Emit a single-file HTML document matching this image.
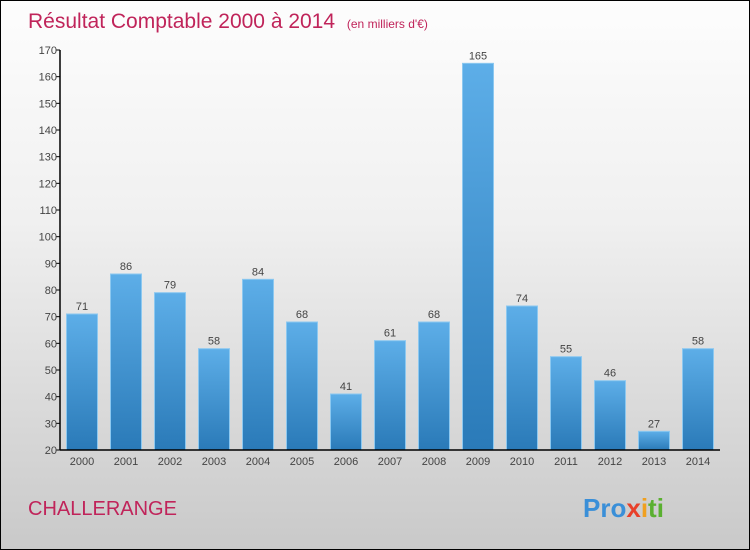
<!DOCTYPE html>
<html><head><meta charset="utf-8"><style>
body{margin:0}
#wrap{position:relative;width:748px;height:548px;border:1px solid #000;background:linear-gradient(#fdfdfd,#f0f0f0 40%,#c9c9c9);font-family:"Liberation Sans",sans-serif;overflow:hidden}
</style></head><body>
<div id="wrap">
<svg id="svg" width="748" height="548">
<defs><linearGradient id="bg" x1="0" x2="0" y1="0" y2="1"><stop offset="0" stop-color="#5daee8"/><stop offset="1" stop-color="#2a7ab8"/></linearGradient></defs>
<text x="27" y="27" font-size="21" fill="#c0245a">Résultat Comptable 2000 à 2014 <tspan font-size="12" dx="6">(en milliers d'€)</tspan></text>
<text x="27" y="514" font-size="20" fill="#c0245a">CHALLERANGE</text>
<text x="582" y="516" font-size="26" font-weight="bold"><tspan fill="#3a8fd8">Pro</tspan><tspan fill="#e8402a">x</tspan><tspan fill="#f0a020">i</tspan><tspan fill="#5ab030">ti</tspan></text>
<g id="plot"></g>
</svg>
</div>
<script>
const categories=["2000","2001","2002","2003","2004","2005","2006","2007","2008","2009","2010","2011","2012","2013","2014"];
const values=[71,86,79,58,84,68,41,61,68,165,74,55,46,27,58];
const yTicks=[20,30,40,50,60,70,80,90,100,110,120,130,140,150,160,170];
const NS="http://www.w3.org/2000/svg";
const g=document.getElementById("plot");
const x0=59,band=44,yMin=20,yMax=170,yTop=49,yBot=449;
const y=v=>yBot-(v-yMin)/(yMax-yMin)*(yBot-yTop);
const xc=i=>x0+band*(i+0.5);
function mk(t,a,txt){const e=document.createElementNS(NS,t);for(const k in a)e.setAttribute(k,a[k]);if(txt!=null)e.textContent=txt;g.appendChild(e);return e;}
yTicks.forEach(t=>{
 const l=mk("line",{x1:x0-4,x2:x0,y1:y(t),y2:y(t),stroke:"#000"});
 
 
 const tx=mk("text",{x:x0-3,y:y(t)+4,"font-size":11,fill:"#444","text-anchor":"end"},t);
 
 
});
values.forEach((v,i)=>{
 const r=mk("rect",{x:xc(i)-15.5,y:y(v),width:31,height:yBot-y(v),fill:"url(#bg)",stroke:"#8cc8f0","stroke-width":1});
 
 
 const vl=mk("text",{x:xc(i),y:y(v)-4,"font-size":11,fill:"#444","text-anchor":"middle"},v);
 
 
 const c=mk("text",{x:xc(i),y:yBot+15,"font-size":11,fill:"#444","text-anchor":"middle"},categories[i]);
 
 
});
const ya=mk("line",{x1:x0,x2:x0,y1:yTop,y2:yBot,stroke:"#000","stroke-width":1.5});


const xa=mk("line",{x1:x0,x2:x0+band*15,y1:yBot,y2:yBot,stroke:"#000","stroke-width":1.5});


</script>
</body></html>
